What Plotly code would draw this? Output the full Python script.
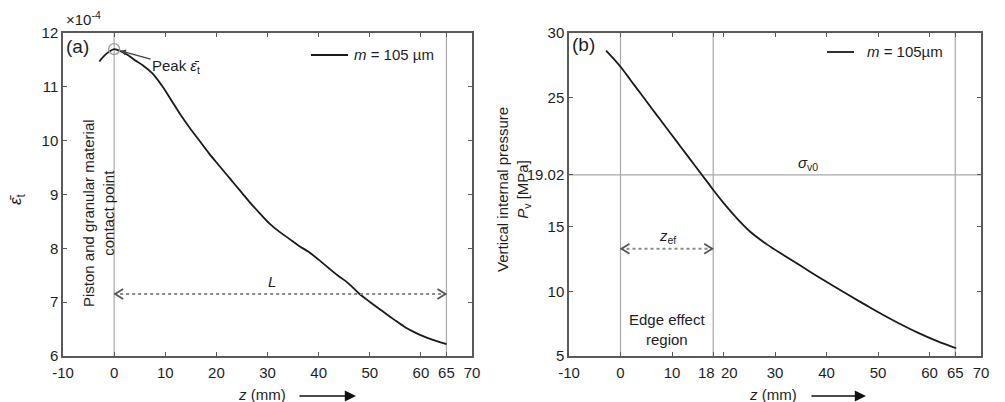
import plotly.graph_objects as go

# ---- data -----------------------------------------------------------------
# (a) mean strain along the specimen, in units of 1e-4
z_a = [-2.9, -2.0, -1.0, 0.0, 1.0, 2.5, 4.0, 5.6, 7.5, 9.5, 11.0, 12.8, 14.7,
       16.7, 18.6, 20.6, 22.8, 25.0, 26.5, 28.5, 30.4, 32.3, 34.2, 36.1, 38.1,
       40.0, 42.0, 43.7, 45.3, 46.6, 47.9, 50.1, 52.4, 54.7, 57.0, 59.0, 60.9,
       63.0, 65.0]
eps_a = [11.47, 11.57, 11.65, 11.70, 11.67, 11.60, 11.50, 11.40, 11.25, 11.00,
         10.78, 10.51, 10.25, 10.00, 9.76, 9.53, 9.28, 9.03, 8.86, 8.65, 8.46,
         8.31, 8.18, 8.05, 7.93, 7.79, 7.63, 7.50, 7.39, 7.28, 7.16, 7.00, 6.84,
         6.68, 6.53, 6.43, 6.35, 6.28, 6.22]

# (b) vertical internal pressure, MPa
z_b = [-2.8, 0.0, 2.0, 3.8, 6.0, 7.7, 10.0, 11.6, 13.5, 15.5, 17.0, 18.4, 20.0,
       22.5, 25.2, 28.5, 31.7, 35.0, 38.2, 41.5, 44.7, 48.0, 51.2, 54.5, 57.6,
       61.5, 65.2]
p_b = [28.63, 27.39, 26.33, 25.37, 24.20, 23.30, 22.09, 21.24, 20.24, 19.18,
       18.40, 17.65, 16.85, 15.70, 14.62, 13.62, 12.80, 11.98, 11.18, 10.38,
       9.62, 8.86, 8.14, 7.44, 6.83, 6.15, 5.60]

peak_z, peak_eps = 0.0, 11.70
marks_a = [0, 65]          # contact point, specimen end
marks_b = [0, 18, 65]      # contact point, edge-effect limit, specimen end
sigma_v0 = 19.02
arrow_L_y = 7.15
arrow_zef_y = 13.3
series_label_a = "<i>m</i> = 105 µm"
series_label_b = "<i>m</i> = 105µm"

xt_a = [-10, 0, 10, 20, 30, 40, 50, 60, 65, 70]
xt_b = [-10, 0, 10, 18, 20, 30, 40, 50, 60, 65, 70]
yt_a = [6, 7, 8, 9, 10, 11, 12]
yt_b = [5, 10, 15, 19.02, 25, 30]
yl_b = ["5", "10", "15", "19.02", "25", "30"]

# ---- styling ----------------------------------------------------------------
W, H = 1005, 402
FONT = "Liberation Sans, Arial, sans-serif"
TXT = "#1e1e1e"
AX = "#5a5a5a"
REF = "#a8a8a8"
DOT = "#8a8a8a"
LINE = "#1a1a1a"


def px(x):
    return x / W


def py(y):
    return 1 - y / H


axis_style = dict(showline=True, linecolor=AX, linewidth=1.5, mirror="ticks",
                  ticks="inside", ticklen=4, tickwidth=1, tickcolor=AX,
                  showgrid=False, zeroline=False, automargin=False,
                  tickfont=dict(family=FONT, size=15, color=TXT))

fig = go.Figure()
fig.add_trace(go.Scatter(x=z_a, y=eps_a, mode="lines", xaxis="x", yaxis="y",
                         line=dict(color=LINE, width=1.8, shape="spline"),
                         name=series_label_a))
fig.add_trace(go.Scatter(x=[peak_z], y=[peak_eps], mode="markers", xaxis="x",
                         yaxis="y",
                         marker=dict(symbol="circle-open", size=11, color="#999",
                                     line=dict(width=1.3))))
fig.add_trace(go.Scatter(x=z_b, y=p_b, mode="lines", xaxis="x2", yaxis="y2",
                         line=dict(color=LINE, width=1.8, shape="spline"),
                         name=series_label_b))

shapes = []
for v in marks_a:
    shapes.append(dict(type="line", xref="x", yref="y domain", x0=v, x1=v,
                       y0=0, y1=1, line=dict(color=REF, width=1.2), layer="below"))
for v in marks_b:
    shapes.append(dict(type="line", xref="x2", yref="y2 domain", x0=v, x1=v,
                       y0=0, y1=1, line=dict(color=REF, width=1.2), layer="below"))
shapes.append(dict(type="line", xref="x2 domain", yref="y2", x0=0, x1=1,
                   y0=sigma_v0, y1=sigma_v0, line=dict(color=REF, width=1.2),
                   layer="below"))


def dim_arrow(xr, yr, xa, xb, y):
    out = [dict(type="line", xref=xr, yref=yr, x0=xa, x1=xb, y0=y, y1=y,
                line=dict(color=DOT, width=2, dash="dot"))]
    for anchor, sgn in ((xa, 1), (xb, -1)):
        out.append(dict(type="path", xref=xr, yref=yr, xsizemode="pixel",
                        ysizemode="pixel", xanchor=anchor, yanchor=y,
                        path=f"M {9*sgn},5 L {1*sgn},0 L {9*sgn},-5",
                        line=dict(color="#555", width=1.8)))
    return out


shapes += dim_arrow("x", "y", marks_a[0], marks_a[1], arrow_L_y)
shapes += dim_arrow("x2", "y2", marks_b[0], marks_b[1], arrow_zef_y)

# legend keys (line sample + label) in the upper right of each panel
for x0, x1, yk in ((311, 348, 55), (827, 854, 52)):
    shapes.append(dict(type="line", xref="paper", yref="paper", x0=px(x0),
                       x1=px(x1), y0=py(yk), y1=py(yk),
                       line=dict(color=LINE, width=1.8)))

f15 = dict(family=FONT, size=15, color=TXT)
eps_bar = "<i>\u03b5\u0304</i>"


def label(text, x, y, size=15, angle=0, xanchor="center"):
    return dict(text=text, x=px(x), y=py(y), xref="paper", yref="paper",
                xanchor=xanchor, yanchor="middle", textangle=angle,
                showarrow=False, font=dict(family=FONT, size=size, color=TXT))


# the 18 / 20 tick labels of panel (b) sit side by side, nudged apart
tick_b_text = ["" if v in (18, 20) else str(v) for v in xt_b]

ann = [
    label("(a)", 77, 46, size=19),
    label("(b)", 583, 45, size=19),
    label("×10<sup>-4</sup>", 64, 19, xanchor="left"),
    dict(text=f"Peak {eps_bar}<sub>t</sub>", x=peak_z, y=peak_eps, xref="x", yref="y",
         ax=62, ay=17, showarrow=True, arrowhead=2, arrowsize=1, arrowwidth=1.2,
         arrowcolor="#444", standoff=6, font=f15),
    label("Piston and granular material<br>contact point", 98, 213, angle=-90),
    label(f"{eps_bar}<sub>t</sub>", 17, 200, size=17, angle=-90),
    label("<i>L</i>", 272, 281),
    label("Vertical internal pressure<br><i>P</i><sub>v</sub> [MPa]", 514, 190,
          angle=-90),
    label("<i>σ</i><sub>v0</sub>", 808, 164),
    label("<i>z</i><sub>ef</sub>", 667, 236),
    label("Edge effect<br>region", 667, 329),
    label(series_label_a, 352, 55, xanchor="left"),
    label(series_label_b, 865, 52, xanchor="left"),
    dict(text="18", x=18, y=0, xref="x2", yref="y2 domain", xanchor="right",
         yanchor="top", xshift=4, yshift=-6, showarrow=False, font=f15),
    dict(text="20", x=20, y=0, xref="x2", yref="y2 domain", xanchor="left",
         yanchor="top", xshift=-5, yshift=-6, showarrow=False, font=f15),
]
# axis titles with direction arrows
for cx, head, tail in ((262, 356, 298), (773, 866, 810)):
    ann.append(label("<i>z</i> (mm)", cx, 394))
    ann.append(dict(text="", x=px(head), y=py(396), xref="paper", yref="paper",
                    ax=tail - head, ay=0, showarrow=True, arrowhead=2,
                    arrowsize=1.4, arrowwidth=1.6, arrowcolor="#111"))

dom_y = [py(356), py(33)]
fig.update_layout(
    width=W, height=H,
    margin=dict(l=0, r=0, t=0, b=0, pad=0, autoexpand=False),
    paper_bgcolor="white", plot_bgcolor="white",
    font=dict(family=FONT, color=TXT), showlegend=False,
    xaxis=dict(domain=[px(63), px(472)], range=[-10, 70], tickmode="array",
               tickvals=xt_a, ticktext=[str(v) for v in xt_a], tickangle=0,
               ticklabelstandoff=2, anchor="y", **axis_style),
    yaxis=dict(domain=dom_y, range=[6, 12], tickmode="array", tickvals=yt_a,
               ticktext=[str(v) for v in yt_a], anchor="x", **axis_style),
    xaxis2=dict(domain=[px(569), px(981)], range=[-10, 70], tickmode="array",
                tickvals=xt_b, ticktext=tick_b_text, tickangle=0,
                ticklabelstandoff=2, anchor="y2", **axis_style),
    yaxis2=dict(domain=dom_y, range=[5, 30], tickmode="array", tickvals=yt_b,
                ticktext=yl_b, anchor="x2", **axis_style),
    shapes=shapes, annotations=ann,
)

fig.write_html("out.html")
